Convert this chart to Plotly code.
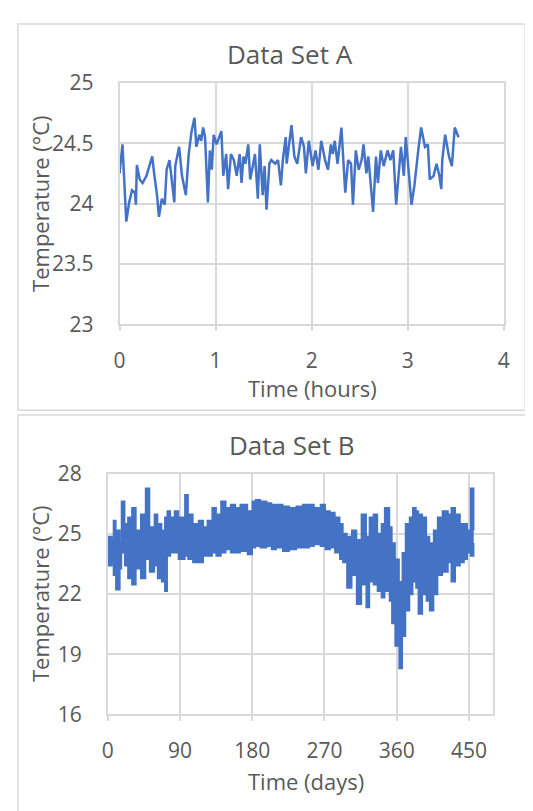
import plotly.graph_objects as go

W, H = 533, 811

# ---- Data Set A (time in hours, temperature in °C) ----
time_a = [0.00, 0.03, 0.07, 0.10, 0.13, 0.16, 0.17, 0.18, 0.21, 0.24, 0.28, 0.31, 0.34, 0.36, 0.39,
          0.41, 0.44, 0.47, 0.49, 0.52, 0.54, 0.57, 0.58, 0.62, 0.65, 0.69, 0.72, 0.75, 0.78, 0.80,
          0.83, 0.85, 0.87, 0.89, 0.92, 0.94, 0.96, 0.98, 1.01, 1.06, 1.08, 1.11, 1.13, 1.16, 1.19,
          1.22, 1.25, 1.27, 1.29, 1.31, 1.34, 1.36, 1.38, 1.41, 1.44, 1.46, 1.49, 1.51, 1.53, 1.56,
          1.58, 1.62, 1.65, 1.68, 1.70, 1.73, 1.74, 1.79, 1.82, 1.85, 1.89, 1.92, 1.94, 1.97, 2.01,
          2.04, 2.07, 2.10, 2.14, 2.17, 2.20, 2.22, 2.24, 2.27, 2.31, 2.33, 2.35, 2.38, 2.41, 2.43,
          2.46, 2.49, 2.52, 2.54, 2.57, 2.59, 2.64, 2.67, 2.69, 2.72, 2.75, 2.79, 2.82, 2.85, 2.88,
          2.91, 2.93, 2.96, 2.98, 3.04, 3.07, 3.11, 3.14, 3.18, 3.21, 3.23, 3.27, 3.30, 3.33, 3.35,
          3.36, 3.39, 3.43, 3.46, 3.49, 3.53]
temp_a = [24.25, 24.49, 23.85, 24.01, 24.11, 24.09, 23.99, 24.32, 24.20, 24.17, 24.23, 24.31, 24.39, 24.25, 24.07,
          23.89, 24.04, 23.99, 24.28, 24.36, 24.20, 24.01, 24.31, 24.47, 24.23, 24.07, 24.41, 24.60, 24.71, 24.47,
          24.57, 24.52, 24.63, 24.55, 24.01, 24.44, 24.28, 24.57, 24.49, 24.60, 24.23, 24.41, 24.12, 24.41, 24.36,
          24.23, 24.41, 24.17, 24.39, 24.33, 24.49, 24.20, 24.28, 24.41, 24.04, 24.49, 24.07, 24.31, 23.95, 24.33,
          24.36, 24.33, 24.36, 24.15, 24.36, 24.55, 24.33, 24.65, 24.39, 24.33, 24.55, 24.47, 24.25, 24.52, 24.31,
          24.44, 24.28, 24.52, 24.36, 24.28, 24.49, 24.41, 24.52, 24.33, 24.63, 24.39, 24.09, 24.36, 24.33, 23.99,
          24.44, 24.28, 24.36, 24.49, 24.25, 24.39, 23.93, 24.39, 24.17, 24.44, 24.31, 24.44, 24.36, 24.44, 23.99,
          24.28, 24.47, 24.23, 24.55, 23.99, 24.15, 24.44, 24.63, 24.47, 24.49, 24.20, 24.23, 24.33, 24.23, 24.12,
          24.36, 24.57, 24.39, 24.31, 24.63, 24.55]

# ---- Data Set B (time in days; upper / lower temperature envelope in °C) ----
day_b = [0, 5, 7, 10, 15, 17, 21, 25, 30, 35, 41, 47, 52, 58, 62, 67, 71, 74, 78, 83, 88, 96, 100, 106,
         113, 119, 124, 130, 135, 141, 147, 153, 159, 165, 174, 180, 184, 190, 198, 204, 210, 218, 226,
         235, 243, 251, 257, 265, 271, 277, 283, 289, 293, 298, 304, 310, 316, 322, 326, 331, 336, 341,
         345, 351, 354, 358, 363, 367, 371, 376, 380, 384, 387, 392, 397, 401, 406, 411, 417, 424, 428,
         433, 439, 444, 448, 452, 456]
upper_b = [24.87, 24.71, 25.67, 25.19, 24.55, 26.63, 25.51, 25.83, 26.31, 25.19, 25.99, 27.28, 25.35, 25.99,
           25.51, 25.19, 25.83, 26.15, 25.83, 26.15, 25.83, 26.96, 25.99, 25.51, 25.67, 25.35, 25.67, 26.31,
           25.99, 26.63, 26.31, 26.47, 26.31, 26.47, 26.15, 26.63, 26.71, 26.63, 26.55, 26.47, 26.47, 26.39,
           26.31, 26.39, 26.47, 26.47, 26.31, 26.47, 26.15, 26.07, 25.83, 25.51, 25.03, 24.87, 25.19, 24.71,
           25.99, 24.87, 25.83, 25.99, 25.03, 25.51, 26.31, 25.35, 24.55, 23.74, 22.62, 24.06, 25.51, 25.83,
           26.31, 26.15, 25.99, 25.83, 24.87, 24.55, 25.19, 25.83, 26.15, 25.99, 26.31, 25.99, 25.51, 25.51,
           25.19, 27.28, 25.19]
lower_b = [23.42, 23.58, 22.94, 22.22, 23.26, 24.06, 23.42, 22.78, 22.46, 23.26, 22.78, 23.74, 23.10, 23.42,
           22.78, 22.62, 22.14, 23.90, 24.06, 24.06, 23.74, 23.90, 23.74, 23.58, 23.58, 23.90, 23.90, 24.06,
           23.90, 24.06, 24.22, 24.06, 24.06, 24.14, 23.98, 24.31, 24.39, 24.31, 24.39, 24.22, 24.31, 24.14,
           24.22, 24.31, 24.31, 24.39, 24.47, 24.39, 24.22, 24.31, 24.06, 23.74, 23.58, 22.30, 22.94, 21.49,
           22.46, 21.33, 22.62, 22.46, 22.14, 21.82, 22.14, 21.65, 20.53, 19.41, 18.28, 19.89, 21.17, 21.98,
           22.62, 22.30, 21.01, 21.98, 21.65, 21.17, 21.98, 22.94, 23.10, 23.58, 22.62, 23.42, 23.58, 23.74,
           24.06, 23.90, 24.55]

# ticks
xticks_a = [0, 1, 2, 3, 4]
yticks_a = [23, 23.5, 24, 24.5, 25]
xticks_b = [0, 90, 180, 270, 360, 450]
yticks_b = [16, 19, 22, 25, 28]

BLUE = "#4472C4"
TXT = "#595959"
GRID = "#D9D9D9"
FONT = "Open Sans"
OFF = 8  # page body margin shifts the figure by 8 px


def px(x):
    return (x - OFF) / W


def py(y):
    return 1 - (y - OFF) / H


fig = go.Figure()
fig.add_trace(go.Scatter(x=time_a, y=temp_a, mode="lines", line=dict(color=BLUE, width=2.5),
                         xaxis="x", yaxis="y", showlegend=False))
fig.add_trace(go.Scatter(x=day_b, y=lower_b, mode="lines", line=dict(color=BLUE, width=1.5, shape="hv"),
                         xaxis="x2", yaxis="y2", showlegend=False))
fig.add_trace(go.Scatter(x=day_b, y=upper_b, mode="lines", line=dict(color=BLUE, width=1.5, shape="hv"),
                         fill="tonexty", fillcolor=BLUE, xaxis="x2", yaxis="y2", showlegend=False))

axis_common = dict(showgrid=True, gridcolor=GRID, gridwidth=1.5, zeroline=False,
                   showline=True, linecolor=GRID, linewidth=1.5, mirror=True,
                   tickfont=dict(family=FONT, size=21, color=TXT), fixedrange=True)

fig.update_layout(
    width=W, height=H,
    margin=dict(l=0, r=0, t=0, b=0),
    paper_bgcolor="white", plot_bgcolor="white",
    xaxis=dict(domain=[px(116), px(509)], range=[0, 4], tickvals=xticks_a, anchor="y",
               ticks="outside", ticklen=5, tickwidth=1.5, tickcolor=GRID, ticklabelstandoff=12, **axis_common),
    yaxis=dict(domain=[py(320), py(70)], range=[23, 25], tickvals=yticks_a, anchor="x",
               ticks="", ticklabelstandoff=20, **axis_common),
    xaxis2=dict(domain=[px(104), px(498)], range=[0, 480], tickvals=xticks_b, anchor="y2",
                ticks="outside", ticklen=5, tickwidth=1.5, tickcolor=GRID, ticklabelstandoff=12, **axis_common),
    yaxis2=dict(domain=[py(724), py(475)], range=[16, 28], tickvals=yticks_b, anchor="x2",
                ticks="", ticklabelstandoff=20, **axis_common),
    shapes=[
        dict(type="rect", xref="paper", yref="paper", x0=px(12), x1=px(531), y0=py(409), y1=py(9),
             line=dict(color=GRID, width=1.5), layer="below"),
        dict(type="rect", xref="paper", yref="paper", x0=px(12), x1=px(545), y0=py(830), y1=py(414),
             line=dict(color=GRID, width=1.5), layer="below"),
    ],
)

ann = [
    ("Data Set A", 290, 40, 26, 0),
    ("Time (hours)", 313, 386, 22, 0),
    ("Temperature (°C)", 34, 195, 22, -90),
    ("Data Set B", 292, 445, 26, 0),
    ("Time (days)", 307, 793, 22, 0),
    ("Temperature (°C)", 34, 599, 22, -90),
]
for text, x, y, size, ang in ann:
    fig.add_annotation(text=text, x=px(x), y=py(y), xref="paper", yref="paper", showarrow=False,
                       xanchor="center", yanchor="middle", textangle=ang,
                       font=dict(family=FONT, size=size, color=TXT))

fig.write_html("out.html")
